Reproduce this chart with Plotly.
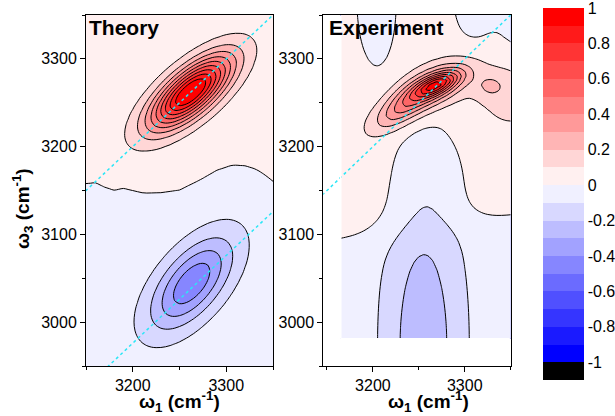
import numpy as np
import plotly.graph_objects as go

# ---------------- frequency axes (cm^-1) ----------------
W1_THEORY = [3150, 3350]
W1_EXPT = [3146, 3350]
W3_RANGE = [2950, 3350]

# ---------------- colour levels ----------------
LEVEL_START, LEVEL_END, LEVEL_STEP = -1.0, 0.9, 0.1
BAR_MIN, BAR_MAX = -1.1, 1.0
BAND_COLORS = [
    "#000000", "#0000FF", "#1A1AFF", "#3535FF", "#5050FF", "#6B6BFF",
    "#8686FF", "#A2A2FF", "#BDBDFF", "#D8D8FF", "#F0F0FF",
    "#FFF0F0", "#FFD6D6", "#FFB5B5", "#FF9999", "#FF8080",
    "#FF6666", "#FF4D4D", "#FF3434", "#FF1A1A", "#FF0000",
]
BAR_TICKS = [-1, -0.8, -0.6, -0.4, -0.2, 0, 0.2, 0.4, 0.6, 0.8, 1]
BAR_TEXT = ["-1", "-0.8", "-0.6", "-0.4", "-0.2", "0", "0.2", "0.4", "0.6", "0.8", "1"]

# ---------------- theory spectrum ----------------
TH_W1 = np.arange(3150, 3351, 5)
TH_W3 = np.arange(2950, 3351, 5)
# bleach (positive) and excited-state absorption (negative) bands
TH_AMP = [1.0, -0.44]
TH_C1 = [3262, 3263]
TH_C3 = [3262, 3044]
TH_SIG_MAJOR = [38.0, 43.0]
TH_SIG_MINOR = [15.5, 21.0]
TH_ANGLE = [43, 53]
# weak background changes sign along this line
TH_ZERO_W1 = [3150, 3160, 3170, 3180, 3190, 3200, 3212, 3230, 3250, 3272, 3290, 3307, 3320, 3332, 3342, 3350]
TH_ZERO_W3 = [3158, 3159, 3154, 3150.5, 3152.5, 3150, 3147, 3147.5, 3150.5, 3162, 3173, 3179, 3178, 3174, 3167, 3160]
TH_BASE = 0.04

# ---------------- experimental spectrum ----------------
EX_W1 = np.arange(3165, 3351, 5)
EX_W3 = np.linspace(2981, 3350, 75)
EX_AMP = [0.50, 0.40, 0.28, 0.12, 0.08, -0.22, -0.07, -0.10, -0.10, -0.20]
EX_C1 = [3270, 3264, 3230, 3328, 3350, 3255, 3262, 3204, 3312, 3362]
EX_C3 = [3271, 3267, 3243, 3269, 3258, 2975, 3170, 3365, 3368, 3362]
EX_SIG_MAJOR = [18, 30, 26, 12, 30, 29, 28, 18, 20, 15]
EX_SIG_MINOR = [7, 14, 11, 10, 30, 116, 45, 61, 40, 30]
EX_ANGLE = [25, 28, 38, 0, 0, 0, 0, 0, 0, 0]
EX_ZERO_W1 = [3165, 3350]
EX_ZERO_W3 = [3095, 3122]
EX_BASE = 0.05
# limits of the measured window
EX_EDGE_W1 = 3165
EX_EDGE_W3 = 2981

DIAG_W1 = [3140, 3360]
DIAG_SHIFT_THEORY = [0, -224]
DIAG_SHIFT_EXPT = [0]


def band(X, Y, amp, c1, c3, s_major, s_minor, angle):
    t = np.deg2rad(angle)
    dx, dy = X - c1, Y - c3
    u = dx * np.cos(t) + dy * np.sin(t)
    v = -dx * np.sin(t) + dy * np.cos(t)
    return amp * np.exp(-0.5 * ((u / s_major) ** 2 + (v / s_minor) ** 2))


def spectrum(w1, w3, amps, c1s, c3s, smaj, smin, angs, zero_w1, zero_w3, base, width):
    X, Y = np.meshgrid(w1, w3)
    z = base * np.tanh((Y - np.interp(X, zero_w1, zero_w3)) / width)
    for p in zip(amps, c1s, c3s, smaj, smin, angs):
        z = z + band(X, Y, *p)
    return z


z_theory = spectrum(TH_W1, TH_W3, TH_AMP, TH_C1, TH_C3, TH_SIG_MAJOR, TH_SIG_MINOR,
                    TH_ANGLE, TH_ZERO_W1, TH_ZERO_W3, TH_BASE, 12)
z_expt = spectrum(EX_W1, EX_W3, EX_AMP, EX_C1, EX_C3, EX_SIG_MAJOR, EX_SIG_MINOR,
                  EX_ANGLE, EX_ZERO_W1, EX_ZERO_W3, EX_BASE, 25)


def stepped(colors):
    n = len(colors)
    scale = []
    for i, c in enumerate(colors):
        scale.append([i / n, c])
        scale.append([(i + 1) / n, c])
    return scale


colorscale = stepped(BAND_COLORS)
# the fills sit on a background painted with the lowest band; keep that one white
fill_scale = stepped(["#FFFFFF"] + BAND_COLORS[1:])

FONT = "Arial, 'Liberation Sans', sans-serif"
W, H = 615, 416

contours = dict(start=LEVEL_START, end=LEVEL_END, size=LEVEL_STEP, coloring="fill")
line_style = dict(color="black", width=1, smoothing=1)

fig = go.Figure()
fig.add_trace(go.Contour(x=TH_W1, y=TH_W3, z=z_theory, contours=contours, line=line_style,
                         colorscale=fill_scale, showscale=False,
                         xaxis="x", yaxis="y", hoverinfo="skip"))
fig.add_trace(go.Contour(x=EX_W1, y=EX_W3, z=z_expt, contours=contours, line=line_style,
                         colorscale=fill_scale, showscale=False,
                         xaxis="x2", yaxis="y2", hoverinfo="skip"))

diag_style = dict(color="#2BE6F6", width=1.5, dash="3px,3px")
for s in DIAG_SHIFT_THEORY:
    fig.add_trace(go.Scatter(x=DIAG_W1, y=[w + s for w in DIAG_W1], mode="lines",
                             line=diag_style, xaxis="x", yaxis="y", hoverinfo="skip"))
for s in DIAG_SHIFT_EXPT:
    fig.add_trace(go.Scatter(x=DIAG_W1, y=[w + s for w in DIAG_W1], mode="lines",
                             line=diag_style, xaxis="x2", yaxis="y2", hoverinfo="skip"))

# colour key: stepped scale from -1.1 to 1.0 carried by an empty marker trace
fig.add_trace(go.Scatter(
    x=[0], y=[0], mode="markers", xaxis="x3", yaxis="y3", hoverinfo="skip",
    marker=dict(color=[0], opacity=0, colorscale=colorscale, cmin=BAR_MIN, cmax=BAR_MAX,
                showscale=True,
                colorbar=dict(x=542.7 / W, xanchor="left", xpad=0, ypad=0,
                              y=(H - 194) / H, yanchor="middle", len=372 / H, lenmode="fraction",
                              thickness=41, thicknessmode="pixels", outlinewidth=0,
                              tickvals=BAR_TICKS, ticktext=BAR_TEXT, ticks="",
                              ticklabeloverflow="allow",
                              tickfont=dict(family=FONT, size=16, color="black"))),
))

axis_common = dict(showline=True, linecolor="black", linewidth=1, mirror=True,
                   ticks="outside", ticklen=5, tickwidth=1, tickcolor="black",
                   showgrid=False, zeroline=False, dtick=100,
                   tickfont=dict(family=FONT, size=16, color="black"),
                   minor=dict(ticks="outside", ticklen=3, dtick=50, tickcolor="black", showgrid=False),
                   automargin=False)
yd = [(H - 366) / H, (H - 15) / H]

# thin white trim along the open edges of the measured window
trim = dict(type="line", xref="x2", yref="y2", layer="above", line=dict(color="white", width=1.5))
shapes = [
    dict(trim, x0=EX_EDGE_W1, x1=EX_EDGE_W1, y0=EX_EDGE_W3, y1=W3_RANGE[1] - 1),
    dict(trim, x0=EX_EDGE_W1, x1=W1_EXPT[1] - 1, y0=EX_EDGE_W3, y1=EX_EDGE_W3),
]

fig.update_layout(
    width=W, height=H, template="none",
    margin=dict(l=0, r=0, t=0, b=0, autoexpand=False),
    paper_bgcolor="white", plot_bgcolor="white",
    showlegend=False,
    font=dict(family=FONT, color="black"),
    xaxis=dict(domain=[86 / W, 273 / W], range=W1_THEORY, tick0=3200, anchor="y", **axis_common),
    yaxis=dict(domain=yd, range=W3_RANGE, tick0=3000, anchor="x", **axis_common),
    xaxis2=dict(domain=[323.3 / W, 510.7 / W], range=W1_EXPT, tick0=3200, anchor="y2", **axis_common),
    yaxis2=dict(domain=yd, range=W3_RANGE, tick0=3000, anchor="x2", **axis_common),
    xaxis3=dict(domain=[0, 0.01], visible=False, range=[1, 2]),
    yaxis3=dict(domain=[0, 0.01], visible=False, range=[1, 2], anchor="x3"),
    shapes=shapes,
)

# panel labels and axis titles
fig.add_annotation(text="<b>Theory</b>", x=87 / W, y=(H - 28) / H, xref="paper", yref="paper",
                   xanchor="left", yanchor="middle", showarrow=False,
                   font=dict(family=FONT, size=21, color="black"))
fig.add_annotation(text="<b>Experiment</b>", x=327 / W, y=(H - 28) / H, xref="paper", yref="paper",
                   xanchor="left", yanchor="middle", showarrow=False,
                   font=dict(family=FONT, size=21, color="black"))
w1_title = "<b>ω<sub>1</sub> (cm<sup>-1</sup>)</b>"
for xc in (179.5, 428):
    fig.add_annotation(text=w1_title, x=xc / W, y=(H - 401) / H, xref="paper", yref="paper",
                       xanchor="center", yanchor="middle", showarrow=False,
                       font=dict(family=FONT, size=19, color="black"))
fig.add_annotation(text="<b>ω<sub>3</sub> (cm<sup>-1</sup>)</b>", x=22 / W, y=(H - 209) / H,
                   xref="paper", yref="paper", xanchor="center", yanchor="middle",
                   textangle=-90, showarrow=False, font=dict(family=FONT, size=19, color="black"))

fig.write_html("out.html")
